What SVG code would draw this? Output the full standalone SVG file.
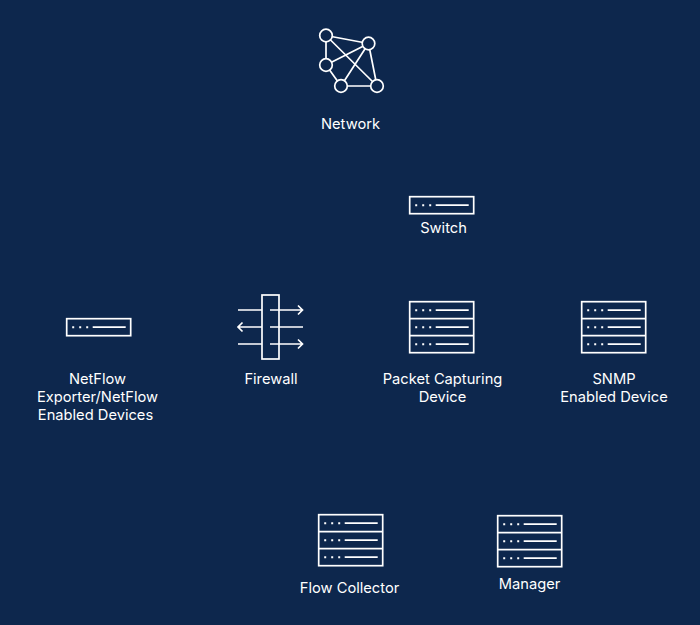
<svg xmlns="http://www.w3.org/2000/svg" width="700" height="625" viewBox="0 0 700 625">
<style>
.l{font-family:"Inter","Liberation Sans",sans-serif;font-size:14.7px;fill:#fff;text-anchor:middle}
.s{fill:none;stroke:#fff;stroke-width:1.7}
.d{fill:none;stroke:#fff;stroke-width:1.7}
.dots{fill:none;stroke:#fff;stroke-width:2;stroke-dasharray:2 5}
</style>
<defs>
<g id="row"><path class="dots" d="M6.500 0H24"/><path class="d" d="M27 0H60"/></g>
<g id="rack"><rect class="s" x="1" y="1" width="64" height="51"/><path class="s" d="M1 18H65M1 35H65"/><use href="#row" y="9.500"/><use href="#row" y="26.500"/><use href="#row" y="43.500"/></g>
<g id="sw"><rect class="s" x="1" y="1" width="64" height="17"/><use href="#row" y="9.500"/></g>
</defs>
<rect width="700" height="625" fill="#0d274d"/>
<g id="network">
<path class="s" d="M326 35.500L368.500 43.500M326 35.500V65M326 35.500L377 86M368.500 43.500L326 65M368.500 43.500L341 86M368.500 43.500L377 86M326 65L341 86M341 86H377"/>
<g fill="#0d274d" stroke="#fff" stroke-width="1.700"><circle cx="326" cy="35.500" r="6.300"/><circle cx="368.500" cy="43.500" r="6.300"/><circle cx="326" cy="65" r="6.300"/><circle cx="341" cy="86" r="6.300"/><circle cx="377" cy="86" r="6.300"/></g>
<text class="l" x="350.500" y="128.500">Network</text>
</g>
<g id="switch"><use href="#sw" x="408.700" y="195.700"/><text class="l" x="443.500" y="232.500">Switch</text></g>
<g id="netflow"><use href="#sw" x="65.700" y="317.700"/><text class="l"><tspan x="97.500" y="384">NetFlow</tspan><tspan x="97.500" y="402">Exporter/NetFlow</tspan><tspan x="95.500" y="420">Enabled Devices</tspan></text></g>
<g id="firewall">
<rect class="s" x="262" y="295" width="17" height="64"/>
<path class="s" d="M238 310H262M270 310H302M298 305.500L302.500 310L298 314.500M238 327H262M270 327H303M242.500 322.500L238 327L242.500 331.500M238 344H262M270 344H302M298 339.500L302.500 344L298 348.500"/>
<text class="l" x="271" y="384">Firewall</text>
</g>
<g id="packet"><use href="#rack" x="408.700" y="300.700"/><text class="l"><tspan x="442.500" y="384">Packet Capturing</tspan><tspan x="442.500" y="402">Device</tspan></text></g>
<g id="snmp"><use href="#rack" x="580.700" y="300.700"/><text class="l"><tspan x="614" y="384">SNMP</tspan><tspan x="614" y="402">Enabled Device</tspan></text></g>
<g id="collector"><use href="#rack" x="317.700" y="513.700"/><text class="l" x="349.500" y="593">Flow Collector</text></g>
<g id="manager"><use href="#rack" x="496.700" y="514.700"/><text class="l" x="529.500" y="589">Manager</text></g>
<g id="connectors"></g>
</svg>
